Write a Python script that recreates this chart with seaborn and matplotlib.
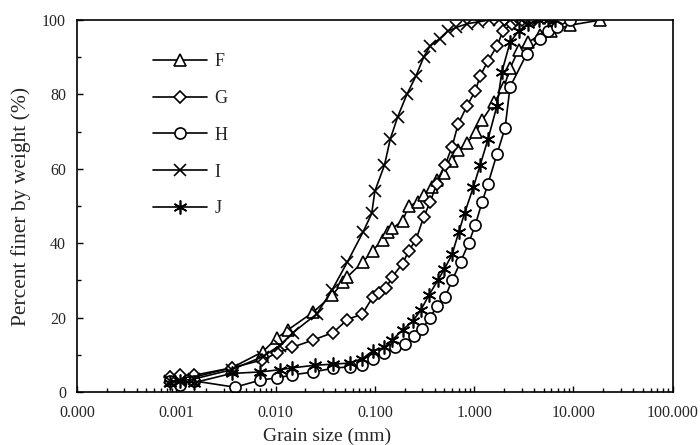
import matplotlib.pyplot as plt
import matplotlib.ticker as mt
import seaborn as sns

# Data (grain size in mm, percent finer)
F_SIZE = [0.00086, 0.0011, 0.0015, 0.0036, 0.0074, 0.0103, 0.0133, 0.024, 0.037, 0.048, 0.053,
          0.076, 0.095, 0.12, 0.135, 0.15, 0.19, 0.22, 0.27, 0.31, 0.38, 0.42, 0.5, 0.6, 0.69,
          0.85, 1.05, 1.2, 1.6, 2.0, 2.3, 2.8, 3.5, 4.6, 6.0, 9.2, 18.7]
F_PCT = [4, 4, 4, 6.5, 10.8, 14.5, 16.7, 21.5, 26, 29.6, 31,
         35, 38, 41, 43, 44, 46, 50, 51, 53, 55, 57, 59, 62, 65,
         67, 70, 73, 78, 82, 87, 92, 94, 96, 97, 98.6, 100]

G_SIZE = [0.00086, 0.0011, 0.0015, 0.0036, 0.0073, 0.0104, 0.0146, 0.024, 0.038, 0.053, 0.075,
          0.095, 0.11, 0.13, 0.15, 0.19, 0.22, 0.26, 0.31, 0.36, 0.42, 0.51, 0.6, 0.69, 0.85,
          1.03, 1.15, 1.38, 1.7, 1.95, 2.4, 3.0, 4.0]
G_PCT = [4, 4.5, 4.5, 6.5, 8.6, 10.5, 12, 14, 16, 19.5, 21,
         25.5, 26.5, 28, 31, 34.5, 38, 41, 47, 51, 56, 61, 66, 72, 77,
         81, 85, 89, 93, 97, 99, 100, 100]

H_SIZE = [0.00086, 0.0011, 0.0015, 0.0039, 0.0070, 0.0103, 0.0146, 0.024, 0.038, 0.056, 0.075,
          0.095, 0.125, 0.16, 0.2, 0.25, 0.3, 0.36, 0.42, 0.51, 0.6, 0.73, 0.88, 1.03, 1.2,
          1.38, 1.7, 2.05, 2.3, 3.4, 4.6, 5.5, 6.8, 9.2]
H_PCT = [3, 2, 3, 1.3, 3.2, 3.8, 4.6, 5.4, 6.4, 6.8, 7.3,
         9, 10.5, 12, 13, 15, 17, 20, 23, 25.5, 30, 35, 40, 45, 51,
         56, 64, 71, 82, 91, 95, 97, 98, 100]

I_SIZE = [0.00086, 0.0011, 0.0015, 0.0036, 0.0074, 0.011, 0.015, 0.026, 0.037, 0.053, 0.076,
          0.093, 0.1, 0.125, 0.143, 0.17, 0.21, 0.26, 0.31, 0.36, 0.45, 0.54, 0.66, 0.85, 1.1,
          1.4, 1.8, 2.3, 3.0]
I_PCT = [3, 3, 3.5, 6, 9.5, 12.5, 16, 21, 27.4, 35, 43,
         48, 54, 61, 68, 74, 80, 85, 90, 93, 95, 97, 98, 99, 99.5,
         100, 100, 100, 100]

J_SIZE = [0.00086, 0.0011, 0.0015, 0.0036, 0.0070, 0.011, 0.0146, 0.025, 0.038, 0.056, 0.075,
          0.095, 0.125, 0.15, 0.19, 0.24, 0.29, 0.35, 0.43, 0.5, 0.6, 0.7, 0.8, 0.98, 1.15,
          1.38, 1.7, 1.9, 2.3, 2.8, 3.5, 4.5, 5.5, 6.5]
J_PCT = [2.5, 3, 2.5, 5, 5.4, 6, 6.5, 7.2, 7.5, 7.8, 9,
         11, 12, 14, 16.7, 19, 22, 26, 30, 33, 37, 43, 48, 55, 61,
         68, 77, 86, 94, 97, 99, 100, 100, 100]

X_TICKS = [0.0001, 0.001, 0.01, 0.1, 1, 10, 100]

SERIES = [
    ("F", F_SIZE, F_PCT, "^"),
    ("G", G_SIZE, G_PCT, "D"),
    ("H", H_SIZE, H_PCT, "o"),
    ("I", I_SIZE, I_PCT, "x"),
    ("J", J_SIZE, J_PCT, (6, 2, 0)),
]
MARKER_SIZE = {"^": 8, "D": 6, "o": 8, "x": 8, (6, 2, 0): 10}

sns.set_style("ticks")
plt.rcParams['font.family'] = ['Liberation Serif', 'DejaVu Serif']

fig = plt.figure(figsize=(7, 4.45), dpi=100)
ax = fig.add_axes([0.11, 0.119, 0.851, 0.836])

for name, xs, ys, mk in SERIES:
    sns.lineplot(x=xs, y=ys, ax=ax, sort=False, estimator=None, color='black',
                 linewidth=1.2, marker=mk, markersize=MARKER_SIZE[mk],
                 markerfacecolor='white', markeredgecolor='black',
                 markeredgewidth=1.2, label=name)

ax.set_xscale('log')
ax.set_xlim(0.0001, 100)
ax.set_ylim(0, 100)
ax.set_xticks(X_TICKS)
ax.xaxis.set_minor_locator(mt.LogLocator(base=10, subs=range(2, 10), numticks=10))
ax.xaxis.set_major_formatter(mt.FuncFormatter(lambda v, p: "%.3f" % v))
ax.xaxis.set_minor_formatter(mt.NullFormatter())
ax.yaxis.set_major_locator(mt.MultipleLocator(20))
ax.yaxis.set_minor_locator(mt.MultipleLocator(10))

ax.tick_params(which='both', direction='in', color='black', labelsize=11.5, width=1)
ax.tick_params(which='major', length=4)
ax.tick_params(axis='x', which='major', pad=9)
ax.tick_params(axis='y', which='major', pad=8)
ax.tick_params(which='minor', length=3)
for sp in ax.spines.values():
    sp.set_color('black')
    sp.set_linewidth(1.2)

ax.set_xlabel('Grain size (mm)', fontsize=14, labelpad=3)
ax.xaxis.set_label_coords(0.42, -0.095)
ax.set_ylabel('Percent finer by weight (%)', fontsize=15.5, labelpad=8)

leg = ax.legend(loc='upper left', bbox_to_anchor=(0.1, 0.955), frameon=False,
                fontsize=13, handlelength=3.0, labelspacing=1.1, handletextpad=0.4)

fig.savefig('out.png', dpi=100)
